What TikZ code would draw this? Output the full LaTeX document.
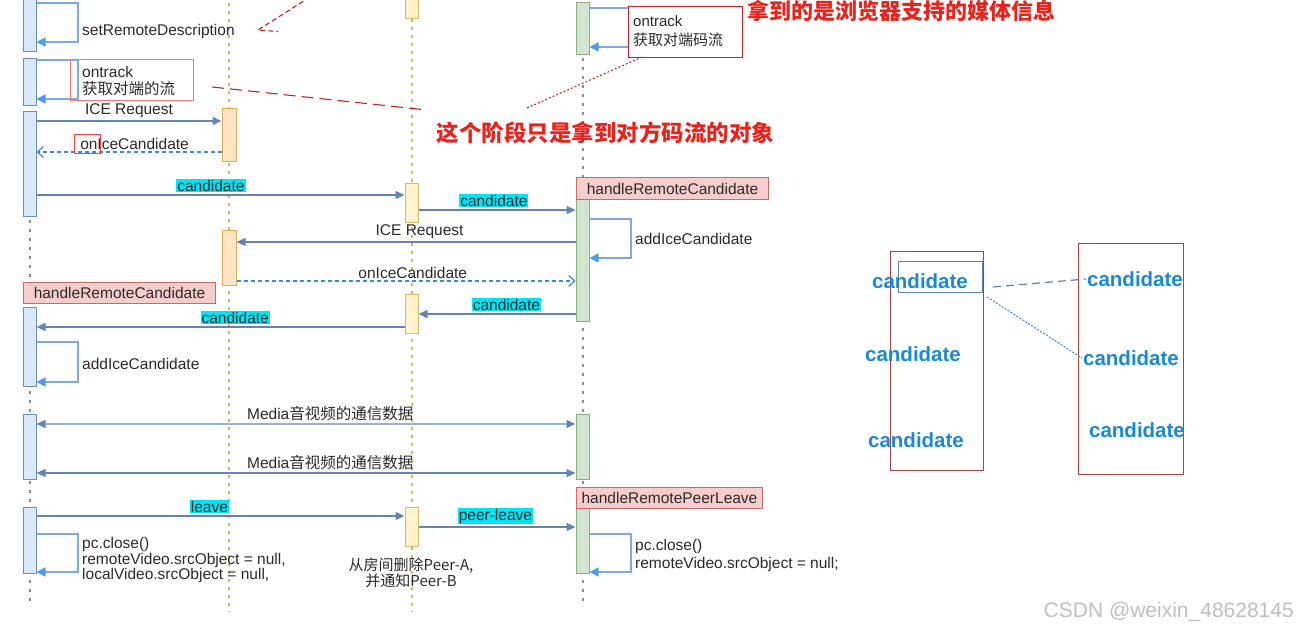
\documentclass[tikz,border=0pt]{standalone}
\usepackage{fontspec}
\setmainfont{Liberation Sans}
\newfontfamily\cjk{Noto Sans CJK SC}
\usetikzlibrary{arrows.meta,calc}
\definecolor{bfill}{HTML}{DAE8FC}
\definecolor{bdraw}{HTML}{6C8EBF}
\definecolor{ofill}{HTML}{FDE4C4}
\definecolor{odraw}{HTML}{E3AE4E}
\definecolor{yfill}{HTML}{FFF2CC}
\definecolor{ydraw}{HTML}{D9BC66}
\definecolor{gfill}{HTML}{D3E4D0}
\definecolor{gdraw}{HTML}{8BAE82}
\definecolor{pfill}{HTML}{F8CECC}
\definecolor{pdraw}{HTML}{C86A66}
\definecolor{msgc}{HTML}{6483B5}
\definecolor{msgl}{HTML}{8FB2E0}
\definecolor{loopc}{HTML}{7EA8E4}
\definecolor{loopa}{HTML}{4A9BE8}
\definecolor{dashc}{HTML}{3C8AE0}
\definecolor{cyanh}{HTML}{00E5F5}
\definecolor{txt}{HTML}{2A2A2A}
\definecolor{annored}{HTML}{C8201E}
\definecolor{bigred}{HTML}{E8231C}
\definecolor{lifeg}{HTML}{8C8C8C}
\definecolor{lifeo}{HTML}{F0B040}
\definecolor{candb}{HTML}{1A8AD8}
\definecolor{rectr}{HTML}{B0403C}
\definecolor{selc}{HTML}{5A82B0}
\newcommand\mkbar[5]{\node[#1, minimum height=#5pt] (#2) at (#3,#4) {};}
\begin{document}
\begin{tikzpicture}[x=1pt,y=-1pt,
  bar/.style={draw, line width=1pt, minimum width=13pt, inner sep=0pt, anchor=north},
  bbar/.style={bar, fill=bfill, draw=bdraw},
  obar/.style={bar, fill=ofill, draw=odraw, minimum width=14pt},
  ybar/.style={bar, fill=yfill, draw=ydraw},
  gbar/.style={bar, fill=gfill, draw=gdraw},
  lifeG/.style={draw=lifeg, line width=1.6pt, dash pattern=on 3pt off 6pt},
  lifeO/.style={draw=lifeo, line width=1.6pt, dash pattern=on 3pt off 5pt},
  msg/.style={draw=msgc, line width=1.3pt, -{Triangle[length=9pt,width=8pt,color=msgc]}},
  dmsg/.style={draw=dashc, line width=1.2pt, dash pattern=on 4pt off 3pt, -{Straight Barb[length=6pt,width=11pt]}},
  selfl/.style={draw=loopc, line width=1.3pt, -{Triangle[length=9pt,width=9pt,color=loopa]}},
  lbl/.style={font=\fontsize{15.5}{17}\selectfont, text=txt, inner sep=1pt},
  cy/.style={lbl, fill=cyanh},
  pinkbox/.style={draw=pdraw, fill=pfill, line width=1pt, anchor=north west, inner sep=1pt, font=\fontsize{15.5}{17}\selectfont, text=txt},
  anno/.style={draw=annored, line width=1.1pt},
  cand/.style={font=\fontsize{20.5}{22}\selectfont\bfseries, text=candb, inner sep=1pt},
  frame/.style={draw=rectr, line width=1.2pt, anchor=north west, inner sep=0pt}
]
\useasboundingbox (0,0) rectangle (1298,634);
\fill[white] (0,0) rectangle (1298,634);

% lifelines
\coordinate (At) at (30,-5); \coordinate (Ab) at (30,605);
\coordinate (Bt) at (229,-5); \coordinate (Bb) at (229,612);
\coordinate (Ct) at (412,-5); \coordinate (Cb) at (412,612);
\coordinate (Dt) at (583,-5); \coordinate (Db) at (583,605);
\draw[lifeG] (At) -- (Ab);
\draw[lifeO] (Bt) -- (Bb);
\draw[lifeO] (Ct) -- (Cb);
\draw[lifeG] (Dt) -- (Db);

% activation bars
\mkbar{bbar}{a1}{29.5}{-5}{56}
\mkbar{bbar}{a2}{29.5}{58}{47}
\mkbar{bbar}{a3}{29.5}{111}{105}
\mkbar{bbar}{a4}{29.5}{307}{79}
\mkbar{bbar}{a5}{29.5}{414}{65}
\mkbar{bbar}{a6}{29.5}{507}{66}
\mkbar{obar}{b1}{229}{108}{53}
\mkbar{obar}{b2}{229}{230}{55}
\mkbar{ybar}{c0}{411.5}{-5}{23}
\mkbar{ybar}{c1}{411.5}{183}{39}
\mkbar{ybar}{c2}{411.5}{294}{39}
\mkbar{ybar}{c3}{411.5}{507}{39}
\mkbar{gbar}{d1}{582.5}{2}{52}
\mkbar{gbar}{d2}{582.5}{190}{131}
\mkbar{gbar}{d3}{582.5}{414}{65}
\mkbar{gbar}{d4}{582.5}{500}{73}

% pink boxes
\node[pinkbox, minimum width=192pt, minimum height=22pt] (h1) at (576,177) {handleRemoteCandidate};
\node[pinkbox, minimum width=192pt, minimum height=21pt] (h2) at (23,282) {handleRemoteCandidate};
\node[pinkbox, minimum width=186pt, minimum height=21pt] (h3) at (576,487) {handleRemotePeerLeave};

% self loops on A
\draw[selfl] (a1.east |- 0,3) -- (78,3) -- (78,42) -- (a1.east |- 0,42);
\node[lbl, anchor=west] (t1) at (81,31) {setRemoteDescription};
\draw[selfl] (a2.east |- 0,60) -- (78,60) -- (78,99) -- (a2.east |- 0,99);
\node[draw=red!55, line width=1.1pt, anchor=north west, minimum width=123pt, minimum height=41pt, inner sep=0pt] (ot1) at (70,59) {};
\node[lbl, anchor=west, align=left] (t2) at (81,81.5) {ontrack\\{\cjk 获取对端的流}};
\draw[selfl] (a4.east |- 0,342) -- (78,342) -- (78,382) -- (a4.east |- 0,382);
\node[lbl, anchor=west] (t3) at (81,364) {addIceCandidate};
\draw[selfl] (a6.east |- 0,534) -- (78,534) -- (78,572) -- (a6.east |- 0,572);
\node[lbl, anchor=west, align=left, font=\fontsize{15.5}{15.5}\selectfont] (t4) at (81,560) {pc.close()\\remoteVideo.srcObject = null,\\localVideo.srcObject = null,};

% self loops on D
\draw[selfl] (d1.east |- 0,8) -- (632,8) -- (632,47) -- (d1.east |- 0,47);
\node[draw=annored, fill=white, line width=1pt, anchor=north west, minimum width=114pt, minimum height=51pt, inner sep=0pt] (ot2) at (628,6) {};
\node[lbl, anchor=west, align=left, font=\fontsize{15}{19}\selectfont] (t5) at (632,31.5) {ontrack\\{\cjk 获取对端码流}};
\draw[selfl] (d2.east |- 0,219) -- (631,219) -- (631,258) -- (d2.east |- 0,258);
\node[lbl, anchor=west] (t6) at (634,239) {addIceCandidate};
\draw[selfl] (d4.east |- 0,534) -- (631,534) -- (631,572) -- (d4.east |- 0,572);
\node[lbl, anchor=west, align=left, font=\fontsize{15.5}{18}\selectfont] (t7) at (634,555) {pc.close()\\remoteVideo.srcObject = null;};

% messages
\draw[msg] (a3.east |- 0,121) -- node[lbl, above=2pt] {ICE Request} (b1.west |- 0,121);
\draw[dmsg] (b1.west |- 0,152) -- node[lbl, above=1pt, pos=0.47] (oic1) {onIceCandidate} (a3.east |- 0,152);
\draw[draw=red!75, line width=1pt] ($(oic1.north west)+(-4,-2)$) rectangle ($(oic1.south west)+(22,2)$);
\draw[msg] (a3.east |- 0,195) -- node[cy, above=2pt, pos=0.474] {candidate} (c1.west |- 0,195);
\draw[msg] (c1.east |- 0,210) -- node[cy, above=2pt, pos=0.48] {candidate} (d2.west |- 0,210);
\draw[msg] (d2.west |- 0,242) -- node[lbl, above=2pt, pos=0.46] {ICE Request} (b2.east |- 0,242);
\draw[dmsg] (b2.east |- 0,281) -- node[lbl, above=1pt, pos=0.52] {onIceCandidate} (d2.west |- 0,281);
\draw[msg] (d2.west |- 0,314) -- node[cy, above=2pt, pos=0.44] {candidate} (c2.east |- 0,314);
\draw[msg] (c2.west |- 0,327) -- node[cy, above=2pt, pos=0.46] {candidate} (a4.east |- 0,327);
\draw[msg, draw=msgl, {Triangle[length=9pt,width=8pt,color=msgc]}-{Triangle[length=9pt,width=8pt,color=msgc]}] (a5.east |- 0,424) -- node[lbl, above=2pt, pos=0.545] {Media{\cjk 音视频的通信数据}} (d3.west |- 0,424);
\draw[msg, {Triangle[length=9pt,width=8pt,color=msgc]}-{Triangle[length=9pt,width=8pt,color=msgc]}] (a5.east |- 0,473) -- node[lbl, above=2pt, pos=0.545] {Media{\cjk 音视频的通信数据}} (d3.west |- 0,473);
\draw[msg] (a6.east |- 0,516) -- node[cy, above=2pt, pos=0.47] {leave} (c3.west |- 0,516);
\draw[msg] (c3.east |- 0,527) -- node[cy, above=2pt, pos=0.49] {peer-leave} (d4.west |- 0,527);
\node[lbl, align=center, font=\fontsize{15}{16.5}\selectfont\cjk] (t8) at (411,573) {从房间删除Peer-A,\\并通知Peer-B};

% annotations
\node[font=\fontsize{22.5}{24}\selectfont\cjk\bfseries, text=bigred, inner sep=0pt] (stage) at (605.5,133) {这个阶段只是拿到对方码流的对象};
\node[font=\fontsize{22}{24}\selectfont\cjk\bfseries, text=bigred, inner sep=0pt, anchor=west] (media) at (747,11) {拿到的是浏览器支持的媒体信息};
\coordinate (n1) at (310,-3); \coordinate (n2) at (258,30); \coordinate (n3) at (278,31.5);
\draw[anno, dash pattern=on 5pt off 3pt] (n1) -- (n2) -- (n3);
\coordinate (n4) at (212,87); \coordinate (n5) at (427,110);
\draw[anno, dash pattern=on 12pt off 6pt] (n4) -- (n5);
\coordinate (n6) at (527,108); \coordinate (n7) at (642,57);
\draw[anno, line width=1pt, dash pattern=on 2pt off 2pt] (n6) -- (n7);

% right-side sketch
\node[frame, minimum width=93pt, minimum height=219pt] (LB) at (890,251) {};
\node[frame, minimum width=105pt, minimum height=231pt] (RB) at (1078,243) {};
\node[draw=selc, line width=1pt, anchor=north west, minimum width=84pt, minimum height=31pt, inner sep=0pt] (sel) at (898,261) {};
\node[cand] (lc1) at (920,281) {candidate};
\node[cand] (lc2) at (913,354) {candidate};
\node[cand] (lc3) at (916,440) {candidate};
\node[cand] (rc1) at (1135,279) {candidate};
\node[cand] (rc2) at (1131,358) {candidate};
\node[cand] (rc3) at (1137,430) {candidate};
\coordinate (s1) at (993,287); \coordinate (s2) at (987,297);
\draw[draw=selc, line width=1.2pt, dash pattern=on 8pt off 5pt] (s1) -- (rc1.west);
\draw[draw=dashc, line width=1pt, dash pattern=on 2pt off 1.5pt] (s2) -- (rc2.west);

% watermark
\node[font=\fontsize{21}{23}\selectfont, text=black!25, anchor=east, inner sep=0pt] (wm) at (1294,612) {CSDN @weixin\_48628145};
\end{tikzpicture}
\end{document}
